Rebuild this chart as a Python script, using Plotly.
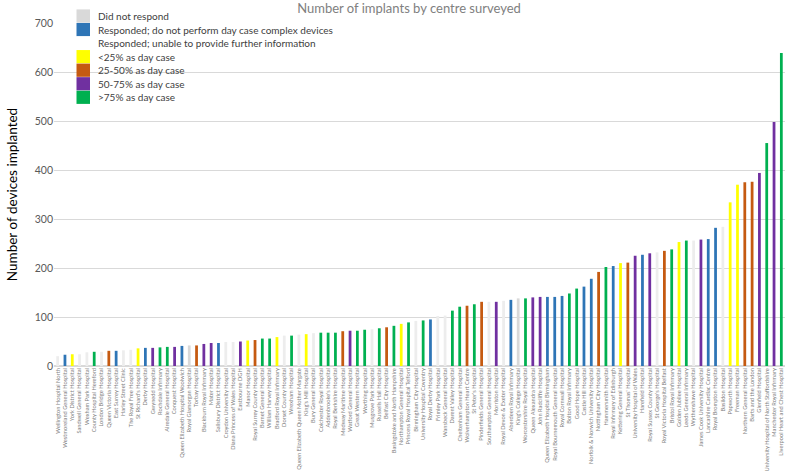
import plotly.graph_objects as go

centres = [
    "Wellington Hospital North", "Westmoreland General Hospital", "York District Hospital",
    "Sandwell General Hospital", "Wexham Park Hospital", "County Hospital Hereford",
    "London Bridge Hospital", "Queen Victoria Hospital", "East Surrey Hospital",
    "Harley Street Clinic", "The Royal Free Hospital", "St Richard's Hospital",
    "Derby Hospital", "Gwynedd Hospital", "Rochdale Infirmary", "Airedale General Hospital",
    "Conquest Hospital", "Queen Elizabeth Hospital Woolwich", "Royal Glamorgan Hospital",
    "Torbay Hospital", "Blackburn Royal Infirmary", "Mater Hospital",
    "Salisbury District Hospital", "Croydon University Hospital",
    "Diana Princess of Wales Hospital", "Eastbourne DGH", "Manor Hospital",
    "Royal Surrey County Hospital", "Barnet General Hospital", "William Harvey Hospital",
    "Bradford Royal Infirmary", "Dorset County Hospital", "Wrexham Hospital",
    "Queen Elizabeth Queen Mother Margate", "King's Mill Hospital", "Bury General Hospital",
    "Colchester Royal Hospital", "Addenbrooke's Hospital", "Royal Berkshire Hospital",
    "Medway Maritime Hospital", "Watford General Hospital", "Great Western Hospital",
    "Worthing Hospital", "Musgrove Park Hospital", "Russells Hall Hospital",
    "Belfast City Hospital", "Basingstoke and North Hampshire", "Northampton General Hospital",
    "Princess Royal Hospital Telford", "Birmingham City Hospital",
    "University Hospital Coventry", "Royal Derby Hospital", "Frimley Park Hospital",
    "Wansbeck General Hospital", "Darent Valley Hospital", "Cheltenham General Hospital",
    "Wolverhampton Heart Centre", "St Peter's Hospital", "Pinderfields General Hospital",
    "Southampton General Hospital", "Morriston Hospital", "Royal Devon & Exeter Hospital",
    "Aberdeen Royal Infirmary", "King's College Hospital", "Worcestershire Royal Hospital",
    "Queen Alexandra Hospital", "John Radcliffe Hospital",
    "Queen Elizabeth Hospital Birmingham", "Royal Bournemouth General Hospital",
    "Royal Cornwall Hospital", "Bolton Royal Infirmary", "Good Hope Hospital",
    "Castle Hill Hospital", "Norfolk & Norwich University Hospital",
    "Nottingham City Hospital", "Hammersmith Hospital", "Royal Infirmary of Edinburgh",
    "Kettering General Hospital", "St Thomas' Hospital", "University Hospital of Wales",
    "Harefield Hospital", "Royal Sussex County Hospital", "St George's Hospital",
    "Royal Victoria Hospital Belfast", "Bristol Royal Infirmary", "Golden Jubilee Hospital",
    "Leeds General Infirmary", "Wythenshawe Hospital", "James Cook University Hospital",
    "Lancashire Cardiac Centre", "Royal Brompton Hospital", "Basildon Hospital",
    "Papworth Hospital", "Freeman Hospital", "Northern General Hospital",
    "Barts and the London", "Glenfield Hospital",
    "University Hospital of North Staffordshire", "Manchester Royal Infirmary",
    "Liverpool Heart and Chest Hospital",
]

implants = [
    20, 23, 24, 24, 28, 29, 29, 31, 31, 32,
    33, 36, 37, 37, 38, 39, 39, 41, 42, 42,
    45, 47, 47, 49, 49, 50, 52, 53, 56, 56,
    59, 62, 62, 64, 65, 67, 68, 68, 68, 71,
    72, 72, 74, 75, 77, 79, 82, 86, 89, 92,
    93, 95, 102, 103, 113, 121, 123, 126, 131, 131,
    131, 133, 135, 138, 138, 140, 141, 141, 141, 143,
    148, 158, 162, 178, 192, 202, 204, 210, 211, 225,
    227, 230, 232, 235, 238, 253, 256, 256, 258, 259,
    282, 284, 334, 370, 375, 376, 394, 455, 498, 639,
]

# status codes: N=did not respond, B=do not perform, U=unable to provide,
# Y=<25%, O=25-50%, P=50-75%, G=>75%
status = [
    "U", "B", "Y", "U", "U", "G", "U", "O", "B", "U",
    "U", "Y", "B", "P", "G", "G", "P", "B", "N", "O",
    "P", "P", "B", "U", "U", "P", "Y", "O", "G", "G",
    "Y", "U", "G", "U", "Y", "U", "G", "G", "G", "O",
    "P", "G", "G", "U", "G", "O", "G", "Y", "G", "U",
    "G", "B", "U", "U", "G", "G", "O", "G", "O", "U",
    "P", "U", "B", "N", "G", "P", "P", "B", "B", "B",
    "G", "G", "B", "B", "O", "G", "B", "Y", "O", "P",
    "B", "P", "U", "O", "G", "Y", "G", "U", "P", "B",
    "B", "U", "Y", "Y", "O", "O", "P", "G", "P", "G",
]

category_codes = ["N", "B", "U", "Y", "O", "P", "G"]
category_names = [
    "Did not respond",
    "Responded; do not perform day case complex devices",
    "Responded; unable to provide further information",
    "<25% as day case",
    "25-50% as day case",
    "50-75% as day case",
    ">75% as day case",
]
category_colors = ["#D9D9D9", "#2E75B6", "#EDEDED", "#FFFF00", "#C55A11", "#7030A0", "#00B050"]
legend_swatch_colors = ["#D9D9D9", "#2E75B6", "#FFFFFF", "#FFFF00", "#C55A11", "#7030A0", "#00B050"]

W, H = 791, 474
ML, MR, MT, MB = 54, 6, 23, 108
PW, PH = W - ML - MR, H - MT - MB


def px_x(px):
    return (px - ML) / PW


def px_y(py):
    return (H - MB - py) / PH


fig = go.Figure()
for code, name, color in zip(category_codes, category_names, category_colors):
    xs = [c for c, s in zip(centres, status) if s == code]
    ys = [v for v, s in zip(implants, status) if s == code]
    fig.add_trace(go.Bar(x=xs, y=ys, name=name, marker=dict(color=color, line=dict(width=0)),
                         width=0.38, showlegend=False))

# Legend block (Excel-style compact rows)
row0, row_h = 16.0, 13.55
for k, (name, sw) in enumerate(zip(category_names, legend_swatch_colors)):
    yc = row0 + k * row_h
    fig.add_shape(type="rect", xref="paper", yref="paper",
                  x0=px_x(76.5), x1=px_x(90), y0=px_y(yc + 6.6), y1=px_y(yc - 6.6),
                  fillcolor=sw, line=dict(width=0), layer="above")
    fig.add_annotation(text=name, xref="paper", yref="paper", x=px_x(95.5), y=px_y(yc),
                       xanchor="left", yanchor="middle", showarrow=False,
                       font=dict(size=10, color="#404040", family="Lato"))

fig.update_layout(
    width=W, height=H,
    margin=dict(l=ML, r=MR, t=MT, b=MB),
    paper_bgcolor="white", plot_bgcolor="white",
    barmode="relative",
    font=dict(family="Lato", color="#595959"),
    title=dict(text="Number of implants by centre surveyed", x=409 / W, xanchor="center",
               y=1 - 8 / H, yanchor="middle",
               font=dict(size=13, color="#808080", family="Lato")),
    showlegend=False,
)
fig.update_xaxes(categoryorder="array", categoryarray=centres, tickangle=-90,
                 tickmode="linear", dtick=1, automargin=False,
                 tickfont=dict(size=5.7, color="#7F7F7F", family="Lato"),
                 showgrid=False, showline=False, ticks="")
fig.update_yaxes(range=[0, 700], dtick=100, showgrid=True, gridcolor="#D9D9D9", gridwidth=1,
                 zeroline=True, zerolinecolor="#D9D9D9", showline=False, automargin=False,
                 tickfont=dict(size=10.5, color="#595959", family="Lato"),
                 title=dict(text="Number of devices implanted", standoff=13,
                            font=dict(size=13.5, color="#000000", family="Lato")))

fig.write_html("out.html")
